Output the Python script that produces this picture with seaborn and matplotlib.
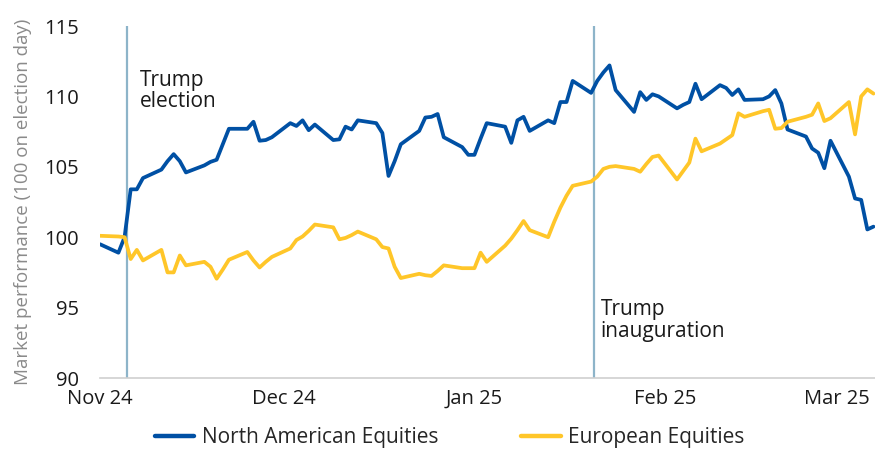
import pandas as pd
import matplotlib
matplotlib.use("Agg")
import matplotlib.pyplot as plt
import matplotlib.dates as mdates
from matplotlib.lines import Line2D
import seaborn as sns

sns.set_theme(style="white")
plt.rcParams['font.family'] = ['Open Sans', 'DejaVu Sans']

# trading days, Nov 1 2024 - Mar 7 2025
dates = pd.bdate_range("2024-11-01", "2025-03-07")

north_american = [
    # Nov
    99.5, 98.9, 100.0, 103.4, 103.4, 104.2, 104.8, 105.4, 105.9, 105.4, 104.6,
    105.1, 105.35, 105.5, 106.6, 107.7, 107.7, 108.2, 106.85, 106.9, 107.1,
    # Dec
    108.1, 107.9, 108.3, 107.6, 108.0, 106.9, 106.95, 107.85, 107.65, 108.3,
    108.1, 107.4, 104.35, 105.4, 106.6, 107.55, 108.5, 108.55, 108.75, 107.1,
    106.4, 105.85,
    # Jan
    105.85, 107.0, 108.1, 107.85, 106.7, 108.3, 108.55, 107.55, 108.3, 108.1,
    109.6, 109.6, 111.1, 110.25, 111.1, 111.7, 112.2, 110.45, 108.9, 110.3,
    109.75, 110.15, 110.0,
    # Feb
    109.15, 109.4, 109.6, 110.9, 109.8, 110.8, 110.6, 110.1, 110.5, 109.75,
    109.8, 110.0, 110.45, 109.5, 107.65, 107.15, 106.3, 106.0, 104.9, 106.85,
    # Mar
    104.3, 102.75, 102.65, 100.55, 100.75,
]

european = [
    # Nov
    100.1, 100.05, 100.0, 98.45, 99.1, 98.35, 99.1, 97.5, 97.5, 98.7, 98.0,
    98.25, 97.9, 97.05, 97.7, 98.4, 98.95, 98.35, 97.85, 98.25, 98.6,
    # Dec
    99.2, 99.8, 100.05, 100.45, 100.9, 100.7, 99.85, 99.95, 100.15, 100.4,
    99.85, 99.3, 99.2, 97.9, 97.1, 97.4, 97.3, 97.25, 97.6, 98.0, 97.8, 97.8,
    # Jan
    97.8, 98.9, 98.25, 99.4, 99.9, 100.5, 101.15, 100.5, 100.0, 101.1, 102.1,
    102.95, 103.65, 103.95, 104.3, 104.85, 105.0, 105.05, 104.85, 104.65,
    105.2, 105.7, 105.8,
    # Feb
    104.1, 104.7, 105.3, 107.0, 106.1, 106.65, 106.95, 107.25, 108.8, 108.55,
    108.95, 109.05, 107.7, 107.75, 108.2, 108.55, 108.7, 109.5, 108.25, 108.45,
    # Mar
    109.6, 107.3, 110.0, 110.5, 110.2,
]

series_names = ["North American Equities", "European Equities"]
colors = {"North American Equities": "#0050A4", "European Equities": "#FFC629"}

events = [pd.Timestamp("2024-11-05"), pd.Timestamp("2025-01-20")]
event_labels = ["Trump\nelection", "Trump\ninauguration"]

df = pd.concat([
    pd.DataFrame({"Date": dates, "Value": north_american, "Series": series_names[0]}),
    pd.DataFrame({"Date": dates, "Value": european, "Series": series_names[1]}),
])

fig = plt.figure(figsize=(8.75, 4.51), dpi=100)
ax = fig.add_axes([100 / 875, 1 - 378 / 451, 775 / 875, 352 / 451])

sns.lineplot(data=df, x="Date", y="Value", hue="Series", palette=colors,
             linewidth=2.7, ax=ax, legend=False)

for ev in events:
    ax.axvline(ev + pd.Timedelta(hours=10), color="#8DB4C9", linewidth=1.6, zorder=0)

ax.annotate(event_labels[0], xy=(events[0], 111.9), xytext=(11, 0),
            textcoords="offset points", ha="left", va="top",
            fontsize=15, color="#1a1a1a", linespacing=1.0)
ax.annotate(event_labels[1], xy=(events[1], 95.6), xytext=(7, 0),
            textcoords="offset points", ha="left", va="top",
            fontsize=15, color="#1a1a1a", linespacing=1.05)

ax.set_xlim(pd.Timestamp("2024-11-01"), pd.Timestamp("2025-03-07 06:00"))
ax.set_ylim(90, 115)
ax.set_yticks([90, 95, 100, 105, 110, 115])
ax.xaxis.set_major_locator(mdates.MonthLocator())
ax.xaxis.set_major_formatter(mdates.DateFormatter("%b %y"))

ax.tick_params(axis="y", length=0, pad=15, labelsize=14.5, labelcolor="#1a1a1a")
ax.tick_params(axis="x", length=6, width=1, color="#cfcfcf", pad=2,
               labelsize=14.5, labelcolor="#1a1a1a", direction="out")
ax.set_xlabel("")
ax.set_ylabel("Market performance (100 on election day)", fontsize=13.5,
              color="#8a8a8a", labelpad=9)

for side in ["top", "right", "left"]:
    ax.spines[side].set_visible(False)
ax.spines["bottom"].set_color("#cfcfcf")
ax.spines["bottom"].set_linewidth(1.2)
ax.grid(False)

handles = [Line2D([0], [0], color=colors[n], linewidth=3.2) for n in series_names]
fig.legend(handles, series_names, loc="center", bbox_to_anchor=(0.514, 0.03),
           ncol=2, frameon=False, fontsize=15, handlelength=1.9,
           handletextpad=0.35, columnspacing=4.0)

fig.savefig("out.png", dpi=100)
